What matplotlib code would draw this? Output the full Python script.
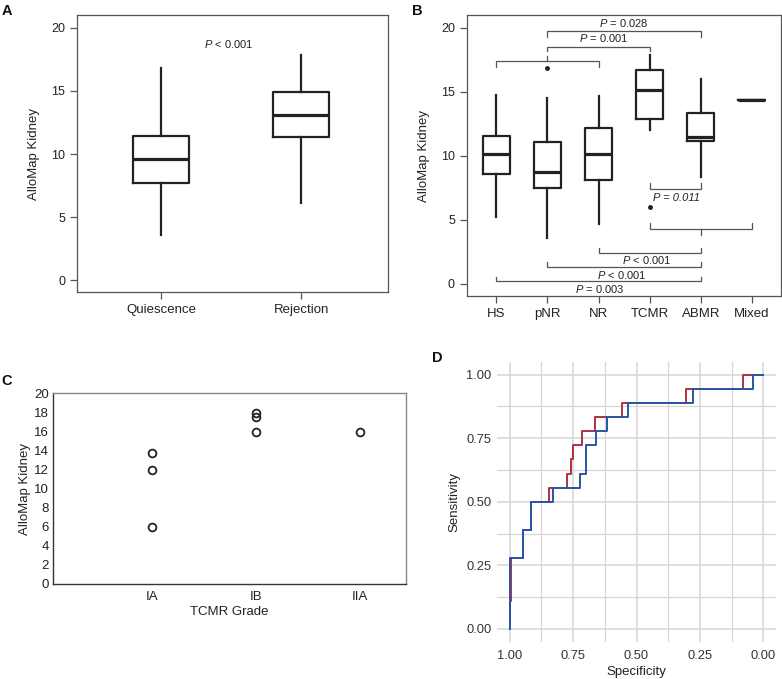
import matplotlib
matplotlib.use("Agg")
import matplotlib.pyplot as plt
import numpy as np

plt.rcParams['font.family'] = ['Liberation Sans', 'DejaVu Sans']
plt.rcParams['mathtext.fontset'] = 'custom'
plt.rcParams['mathtext.rm'] = 'Liberation Sans'
plt.rcParams['mathtext.it'] = 'Liberation Sans:italic'

# ---------------- data ----------------
# Panel A
a_cats = ['Quiescence', 'Rejection']
a_lo = [3.57, 6.09]
a_q1 = [7.72, 11.32]
a_med = [9.60, 13.12]
a_q3 = [11.45, 14.92]
a_hi = [16.85, 17.86]

# Panel B
b_cats = ['HS', 'pNR', 'NR', 'TCMR', 'ABMR', 'Mixed']
b_lo = [5.26, 3.59, 4.69, 12.06, 8.36, 14.35]
b_q1 = [8.62, 7.53, 8.12, 12.86, 11.20, 14.35]
b_med = [10.13, 8.75, 10.13, 15.16, 11.51, 14.35]
b_q3 = [11.59, 11.12, 12.19, 16.69, 13.33, 14.35]
b_hi = [14.79, 14.53, 14.66, 17.89, 16.02, 14.35]
b_out = [[], [16.85], [], [6.04], [], []]

# Panel C
c_grades = ['IA', 'IB', 'IIA']
c_grade_of_point = ['IA', 'IA', 'IA', 'IB', 'IB', 'IB', 'IIA']
c_values = [13.7, 12.0, 6.0, 17.9, 17.5, 15.9, 15.9]

# Panel D (ROC curves)
roc_red_spec = [1.0, 1.0, 0.993, 0.949, 0.916, 0.846, 0.774, 0.757, 0.749,
                0.713, 0.662, 0.559, 0.305, 0.079, 0.0]
roc_red_sens = [0.0, 0.111, 0.278, 0.389, 0.5, 0.556, 0.611, 0.667, 0.722,
                0.778, 0.833, 0.889, 0.944, 1.0, 1.0]
roc_blue_spec = [1.0, 1.0, 0.949, 0.916, 0.829, 0.722, 0.701, 0.661, 0.617,
                 0.532, 0.276, 0.042, 0.0]
roc_blue_sens = [0.0, 0.278, 0.389, 0.5, 0.556, 0.611, 0.722, 0.778, 0.833,
                 0.889, 0.944, 1.0, 1.0]

W, H = 782, 679
fig = plt.figure(figsize=(W / 100, H / 100), dpi=100)


def px_axes(left, top, right, bottom):
    return fig.add_axes([left / W, 1 - bottom / H, (right - left) / W, (bottom - top) / H])


BOX_C = '#222222'
SPINE_C = '#555555'


def style_box_axes(ax):
    for s in ax.spines.values():
        s.set_color(SPINE_C)
        s.set_linewidth(0.9)
    ax.tick_params(axis='both', colors=SPINE_C, length=5, width=0.9, labelcolor='#222222')


def make_stats(lo, q1, med, q3, hi, out=None):
    stats = []
    for i in range(len(med)):
        stats.append(dict(whislo=lo[i], q1=q1[i], med=med[i], q3=q3[i], whishi=hi[i],
                          fliers=(out[i] if out is not None else [])))
    return stats


boxkw = dict(showcaps=False, patch_artist=False,
             boxprops=dict(color=BOX_C, linewidth=1.6),
             whiskerprops=dict(color=BOX_C, linewidth=1.6),
             medianprops=dict(color=BOX_C, linewidth=2.3),
             flierprops=dict(marker='o', markersize=2.5, markerfacecolor=BOX_C,
                             markeredgecolor=BOX_C))

# ---------------- Panel A ----------------
axA = px_axes(77, 15, 388, 292)
axA.bxp(make_stats(a_lo, a_q1, a_med, a_q3, a_hi), positions=[1, 2], widths=0.4, **boxkw)
axA.set_xlim(0.4, 2.62)
axA.set_ylim(-0.95, 21.03)
axA.set_yticks([0, 5, 10, 15, 20])
axA.set_xticks([1, 2])
axA.set_xticklabels(a_cats, fontsize=9.5)
axA.tick_params(axis='y', labelsize=9)
axA.set_ylabel('AlloMap Kidney', fontsize=9.5, color='#222222', labelpad=8)
style_box_axes(axA)
axA.text(1.48, 18.7, r'$P$ < 0.001', ha='center', va='center', fontsize=8, color='#222222')

# ---------------- Panel B ----------------
axB = px_axes(466.7, 15, 781, 296)
pos = np.arange(1, len(b_cats) + 1)
axB.bxp(make_stats(b_lo, b_q1, b_med, b_q3, b_hi, b_out), positions=pos, widths=0.53, **boxkw)
axB.set_xlim(0.42, 6.57)
axB.set_ylim(-0.94, 21.0)
axB.set_yticks([0, 5, 10, 15, 20])
axB.set_xticks(pos)
axB.set_xticklabels(b_cats, fontsize=9.5)
axB.tick_params(axis='y', labelsize=9)
axB.set_ylabel('AlloMap Kidney', fontsize=9.5, color='#222222', labelpad=8)
style_box_axes(axB)

BR_C = '#555555'
BR_LW = 0.9


def bracket(ax, x1, x2, y, tick, mid=None, midtick=None):
    ax.plot([x1, x1, x2, x2], [y + tick, y, y, y + tick], color=BR_C, lw=BR_LW,
            solid_joinstyle='miter')
    if mid is not None:
        ax.plot([mid, mid], [y, y + midtick], color=BR_C, lw=BR_LW)


# top brackets
bracket(axB, 2, 5, 19.77, -0.45)
axB.text(3.5, 20.37, r'$P$ = 0.028', ha='center', va='center', fontsize=8, color='#222222')
bracket(axB, 2, 4, 18.54, -0.36)
axB.text(3.1, 19.2, r'$P$ = 0.001', ha='center', va='center', fontsize=8, color='#222222')
bracket(axB, 1, 3, 17.37, -0.4, mid=2, midtick=0.4)
# middle
bracket(axB, 4, 5, 7.45, 0.42)
axB.text(4.53, 6.72, 'P = 0.011', ha='center', va='center', fontsize=8, style='italic',
         color='#222222')
bracket(axB, 4, 6, 4.30, 0.48, mid=5, midtick=-0.45)
# bottom brackets
bracket(axB, 3, 5, 2.45, 0.38)
axB.text(3.95, 1.85, r'$P$ < 0.001', ha='center', va='center', fontsize=8, color='#222222')
bracket(axB, 2, 5, 1.35, 0.36)
axB.text(3.45, 0.72, r'$P$ < 0.001', ha='center', va='center', fontsize=8, color='#222222')
bracket(axB, 1, 5, 0.20, 0.38)
axB.text(3.02, -0.40, r'$P$ = 0.003', ha='center', va='center', fontsize=8, color='#222222')

# ---------------- Panel C ----------------
axC = px_axes(53.3, 393.3, 406, 584)
gx = [c_grades.index(g) + 1 for g in c_grade_of_point]
axC.plot(gx, c_values, linestyle='none', marker='o', markersize=5.6,
         markerfacecolor='none', markeredgecolor='#222222', markeredgewidth=1.3)
axC.set_xlim(0.05, 3.44)
axC.set_ylim(0, 20)
axC.set_yticks(np.arange(0, 21, 2))
axC.set_xticks([1, 2, 3])
axC.set_xticklabels(c_grades, fontsize=9.5)
axC.tick_params(axis='both', length=0, labelsize=9.5, labelcolor='#222222')
axC.tick_params(axis='y', pad=3)
axC.tick_params(axis='x', pad=5)
axC.set_xlabel('TCMR Grade', fontsize=9.5, color='#222222', labelpad=2)
axC.set_ylabel('AlloMap Kidney', fontsize=9.5, color='#222222', labelpad=2)
for k, s in axC.spines.items():
    s.set_linewidth(1.0)
    s.set_color('#333333' if k in ('left', 'bottom') else '#888888')

# ---------------- Panel D ----------------
axD = px_axes(497, 362, 776, 641.7)
axD.set_xlim(1.05, -0.05)
axD.set_ylim(-0.05, 1.05)
ticks = [0, 0.25, 0.5, 0.75, 1.0]
axD.set_xticks(ticks)
axD.set_yticks(ticks)
axD.set_xticks([0.125, 0.375, 0.625, 0.875], minor=True)
axD.set_yticks([0.125, 0.375, 0.625, 0.875], minor=True)
axD.set_xticklabels(['1.00' if t == 1 else f'{t:.2f}' for t in ticks])
axD.set_yticklabels([f'{t:.2f}' for t in ticks])
axD.grid(True, which='major', color='#d6d6d6', lw=1.1)
axD.grid(True, which='minor', color='#d6d6d6', lw=0.9)
axD.set_axisbelow(True)
for s in axD.spines.values():
    s.set_visible(False)
axD.tick_params(axis='both', which='both', length=0, labelsize=9.3, labelcolor='#333333')
axD.tick_params(axis='x', pad=6)
axD.tick_params(axis='y', pad=4)
axD.step(roc_red_spec, roc_red_sens, where='post', color='#b03040', lw=1.4)
axD.step(roc_blue_spec, roc_blue_sens, where='post', color='#2a55a5', lw=1.4)
axD.set_xlabel('Specificity', fontsize=9.5, color='#222222', labelpad=3)
axD.set_ylabel('Sensitivity', fontsize=9.5, color='#222222', labelpad=4)

# ---------------- panel letters ----------------
for letter, x, y in [('A', 2, 15), ('B', 412, 15), ('C', 1, 385), ('D', 432, 361.5)]:
    fig.text(x / W, 1 - y / H, letter, fontsize=10.5, fontweight='bold', va='baseline',
             ha='left', color='#111111')

fig.savefig('out.png', dpi=100)
